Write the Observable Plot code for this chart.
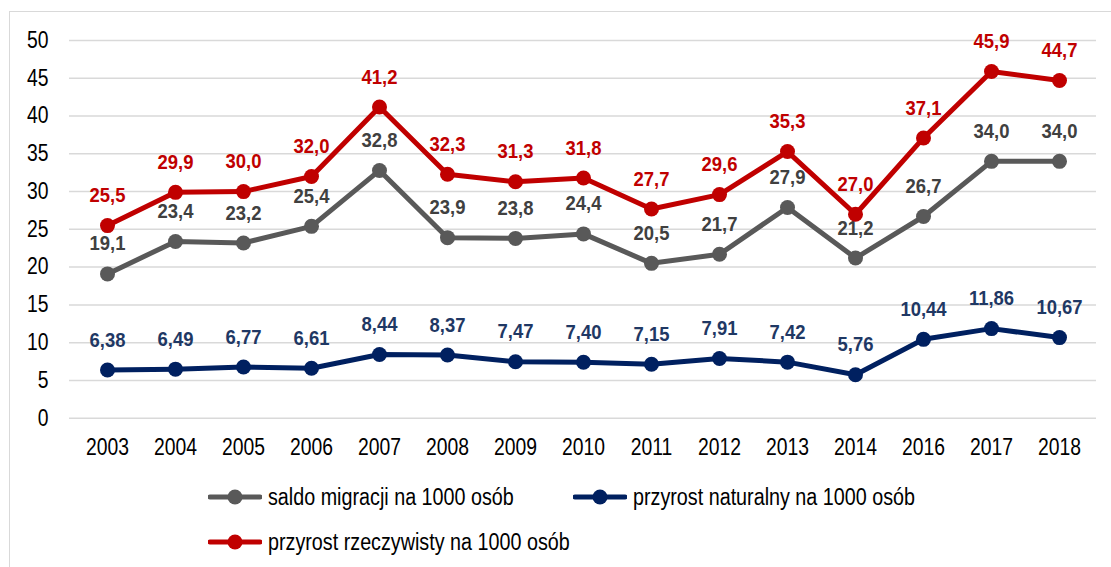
<!DOCTYPE html>
<html><head><meta charset="utf-8">
<script src="https://cdn.jsdelivr.net/npm/d3@7"></script>
<script src="https://cdn.jsdelivr.net/npm/@observablehq/plot@0.6"></script>
<style>
body{margin:0;width:1111px;height:567px;overflow:hidden;background:#fff;position:relative;font-family:"Liberation Sans",Arial,sans-serif}
#frame{position:absolute;left:9px;top:11px;width:1200px;height:700px;border:1px solid #d9d9d9;box-sizing:border-box}
#chart{position:absolute;left:0;top:0}
.leg{position:absolute;display:flex;align-items:center;font-size:23.5px;color:#000;white-space:nowrap;height:30px}
.leg svg{margin-right:6px;flex:none}
.leg span{display:inline-block;transform:scaleX(0.84);transform-origin:left center}
</style></head><body>
<div id="frame"></div>
<div id="chart"></div>
<div id="legend"></div>
<script>
const years = ["2003","2004","2005","2006","2007","2008","2009","2010","2011","2012","2013","2014","2016","2017","2018"];
const saldoMigracji = [19.1,23.4,23.2,25.4,32.8,23.9,23.8,24.4,20.5,21.7,27.9,21.2,26.7,34.0,34.0];
const przyrostNaturalny = [6.38,6.49,6.77,6.61,8.44,8.37,7.47,7.40,7.15,7.91,7.42,5.76,10.44,11.86,10.67];
const przyrostRzeczywisty = [25.5,29.9,30.0,32.0,41.2,32.3,31.3,31.8,27.7,29.6,35.3,27.0,37.1,45.9,44.7];
const seriesNames = ["saldo migracji na 1000 osób","przyrost naturalny na 1000 osób","przyrost rzeczywisty na 1000 osób"];
const yTicks = [0,5,10,15,20,25,30,35,40,45,50];

const fmt1 = v => d3.format(".1f")(v).replace(".", ",");
const fmt2 = v => d3.format(".2f")(v).replace(".", ",");

const series = [
  {name: seriesNames[0], values: saldoMigracji, color: "#595959", label: "#404040", fmt: fmt1},
  {name: seriesNames[1], values: przyrostNaturalny, color: "#002060", label: "#1f3864", fmt: fmt2},
  {name: seriesNames[2], values: przyrostRzeczywisty, color: "#c00000", label: "#c00000", fmt: fmt1}
];

const font = '"Liberation Sans",Arial,sans-serif';

const marks = [
  Plot.ruleY(yTicks, {stroke: "#d9d9d9", strokeWidth: 1.5}),
  Plot.axisY({ticks: yTicks, tickSize: 0, tickPadding: 21, fontSize: 23, label: null, fill: "#000"}),
  Plot.axisX({tickSize: 0, tickPadding: 20, fontSize: 23, label: null, fill: "#000"})
];
for (const s of series) {
  const data = years.map((y, i) => ({year: y, value: s.values[i]}));
  marks.push(
    Plot.line(data, {x: "year", y: "value", stroke: s.color, strokeWidth: 5, strokeLinejoin: "round"}),
    Plot.dot(data, {x: "year", y: "value", r: 7.5, fill: s.color, stroke: null}),
    Plot.text(data, {x: "year", y: "value", text: d => s.fmt(d.value), dy: -30, fill: s.label, fontSize: 20.5, fontWeight: "bold"})
  );
}

const plot = Plot.plot({
  width: 1111,
  height: 470,
  marginTop: 40,
  marginBottom: 52.3,
  marginLeft: 69,
  marginRight: 15,
  style: {fontFamily: font, background: "transparent", overflow: "visible"},
  x: {type: "point", domain: years, padding: 0.5},
  y: {domain: [0, 50]},
  marks
});
document.getElementById("chart").appendChild(plot);

// condense glyphs horizontally to mimic a narrow typeface
plot.querySelectorAll("text").forEach(t => {
  const bold = getComputedStyle(t).fontWeight;
  const k = (bold === "bold" || +bold >= 600) ? 0.9 : 0.84;
  const len = t.getComputedTextLength();
  if (len > 0) {
    t.setAttribute("textLength", len * k);
    t.setAttribute("lengthAdjust", "spacingAndGlyphs");
  }
});

const legendPos = [
  {left: 208, top: 482},
  {left: 573, top: 482},
  {left: 208, top: 527}
];
const legend = document.getElementById("legend");
series.forEach((s, i) => {
  const div = document.createElement("div");
  div.className = "leg";
  div.style.left = legendPos[i].left + "px";
  div.style.top = legendPos[i].top + "px";
  div.innerHTML = `<svg width="54" height="18"><line x1="2" y1="9" x2="52" y2="9" stroke="${s.color}" stroke-width="5" stroke-linecap="round"/><circle cx="27" cy="9" r="7.5" fill="${s.color}"/></svg><span>${s.name}</span>`;
  legend.appendChild(div);
});
</script>
</body></html>
